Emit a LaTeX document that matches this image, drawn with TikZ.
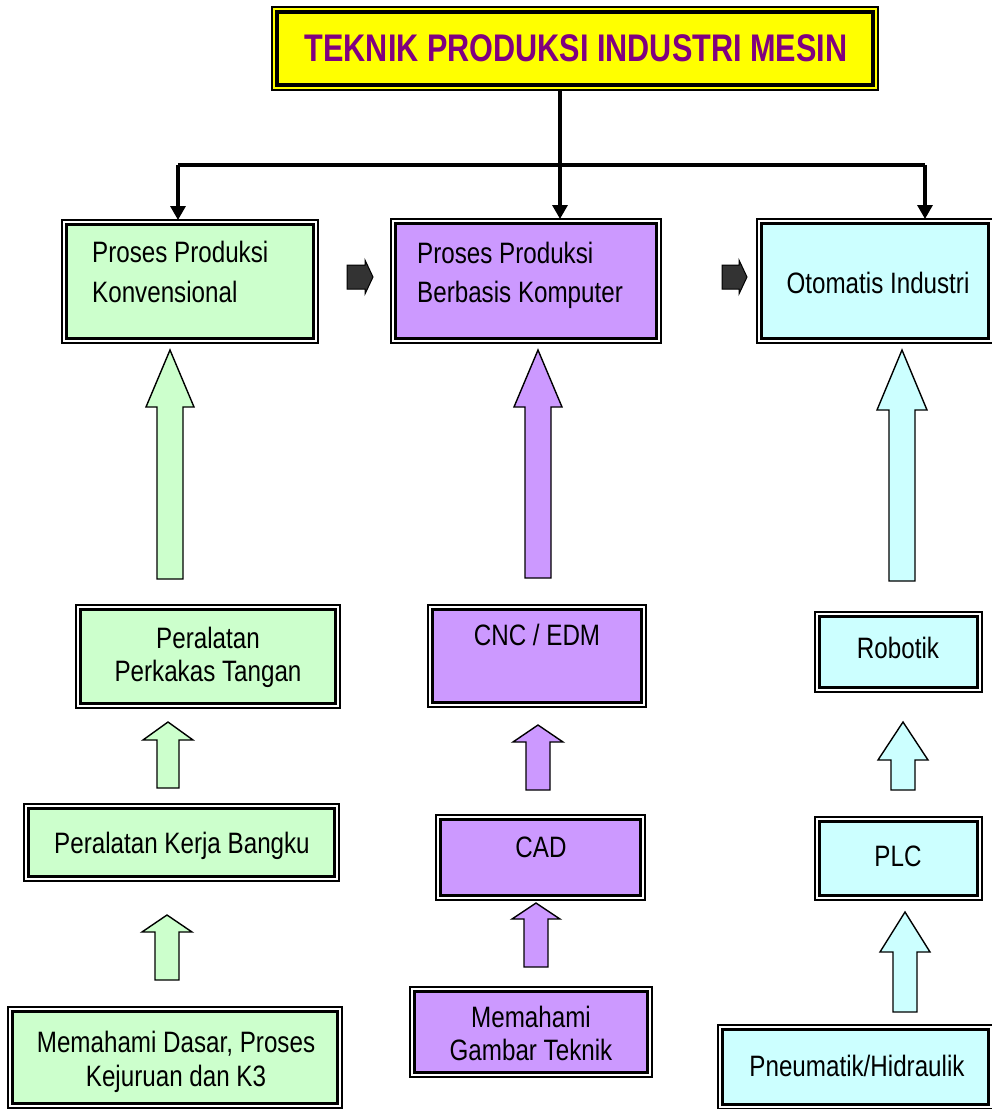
\documentclass[tikz,border=0pt]{standalone}
\usepackage{fontspec}
\setmainfont{Liberation Sans}[FakeStretch=0.82]
\newfontfamily\titlefont{Liberation Sans}[FakeStretch=0.795]
\usetikzlibrary{arrows.meta,calc,fit}
\definecolor{cgreen}{HTML}{CCFFCC}
\definecolor{cpurple}{HTML}{CC99FF}
\definecolor{ccyan}{HTML}{CCFFFF}
\definecolor{cyellow}{HTML}{FFFF00}
\definecolor{ctitle}{HTML}{800080}
\definecolor{cdark}{HTML}{333333}
\tikzset{
  outerbox/.style={draw=black, line width=1.4pt, fill=white, inner sep=0pt, outer sep=0pt},
  innerbox/.style={draw=black, line width=3.8pt},
  lbl/.style={anchor=base, inner sep=0pt, font=\fontsize{29.5}{34}\selectfont},
  conn/.style={line width=3.2pt, draw=black},
  downarr/.style={-{Triangle[width=15pt,length=14pt]}},
  blockarr/.style={draw=black, line width=1.4pt, line join=miter},
  darkarr/.style={draw=black, line width=1pt, fill=cdark, line join=miter},
}
\newcommand\bbox[6]{%
  \node[outerbox, fit={(#2,#3) (#4,#5)}] (#1) {};
  \draw[innerbox, fill=#6] ($(#1.north west)+(4.5,4.5)$) rectangle ($(#1.south east)+(-4.5,-4.5)$);
}
\newcommand\blkup[7]{%
  \draw[blockarr, fill=#7] (#1,#2) -- ({#1+#5},#3) -- ({#1+#6},#3) -- ({#1+#6},#4) -- ({#1-#6},#4) -- ({#1-#6},#3) -- ({#1-#5},#3) -- cycle;
}
\newcommand\blkright[4]{%
  \draw[darkarr] (#1,{#4-12}) -- (#2,{#4-12}) -- (#2,{#4-17}) -- (#3,#4) -- (#2,{#4+17}) -- (#2,{#4+12}) -- (#1,{#4+12}) -- cycle;
}
\begin{document}
\begin{tikzpicture}[x=1pt,y=-1pt]
\clip (0,0) rectangle (992,1109);
\fill[white] (0,0) rectangle (992,1109);

% title
\node[outerbox, fill=cyellow, fit={(272,7) (878,90)}] (title) {};
\draw[innerbox] ($(title.north west)+(5,5)$) rectangle ($(title.south east)+(-5,-5)$);
\node[anchor=base, inner sep=0pt, text=ctitle, font=\titlefont\bfseries\fontsize{38.5}{42}\selectfont] (titletext) at (576,61) {TEKNIK PRODUKSI INDUSTRI MESIN};

% top row boxes
\bbox{b1}{62}{220}{318}{343}{cgreen}
\bbox{b2}{391}{219}{661}{343}{cpurple}
\bbox{b3}{757}{219}{993}{343}{ccyan}
\node[lbl, anchor=base west] (b1a) at (92,262) {Proses Produksi};
\node[lbl, anchor=base west] (b1b) at (92,302) {Konvensional};
\node[lbl, anchor=base west] (b2a) at (417,263) {Proses Produksi};
\node[lbl, anchor=base west] (b2b) at (417,302) {Berbasis Komputer};
\node[lbl] (b3a) at (878,293) {Otomatis Industri};

% connectors from title
\coordinate (jm) at (560,165);
\coordinate (jl) at (178,165);
\coordinate (jr) at (925,165);
\draw[conn] (jm |- title.south) -- (jm);
\draw[conn] (jl) -- (jr);
\draw[conn, downarr] (jm) -- (jm |- b2.north);
\draw[conn, downarr] (jl) -- (jl |- b1.north);
\draw[conn, downarr] (jr) -- (jr |- b3.north);

% dark arrows between top boxes
\blkright{347}{365}{373}{277}
\blkright{722}{739}{747}{277}

% green column
\bbox{g1}{76}{605}{340}{708}{cgreen}
\bbox{g2}{24}{804}{339}{881}{cgreen}
\bbox{g3}{8}{1007}{342}{1108}{cgreen}
\node[lbl] (g1a) at (208,648) {Peralatan};
\node[lbl] (g1b) at (208,681) {Perkakas Tangan};
\node[lbl] (g2a) at (182,853) {Peralatan Kerja Bangku};
\node[lbl] (g3a) at (176,1052) {Memahami Dasar, Proses};
\node[lbl] (g3b) at (176,1086) {Kejuruan dan K3};
\blkup{170}{350}{407}{579}{24}{13}{cgreen}
\blkup{168}{722}{740}{788}{25}{11}{cgreen}
\blkup{167}{915}{932}{980}{25}{12}{cgreen}

% purple column
\bbox{p1}{428}{605}{646}{707}{cpurple}
\bbox{p2}{436}{815}{645}{900}{cpurple}
\bbox{p3}{410}{987}{652}{1077}{cpurple}
\node[lbl] (p1a) at (537,645) {CNC / EDM};
\node[lbl] (p2a) at (541,857) {CAD};
\node[lbl] (p3a) at (531,1027) {Memahami};
\node[lbl] (p3b) at (531,1060) {Gambar Teknik};
\blkup{538}{350}{407}{578}{24}{13}{cpurple}
\blkup{538}{725}{742}{790}{25}{12}{cpurple}
\blkup{536}{903}{919}{967}{24}{12}{cpurple}

% cyan column
\bbox{c1}{815}{612}{982}{692}{ccyan}
\bbox{c2}{815}{817}{982}{900}{ccyan}
\bbox{c3}{718}{1025}{993}{1109}{ccyan}
\node[lbl] (c1a) at (898,658) {Robotik};
\node[lbl] (c2a) at (898,866) {PLC};
\node[lbl] (c3a) at (857,1076) {Pneumatik/Hidraulik};
\blkup{902}{350}{410}{581}{25}{13}{ccyan}
\blkup{903}{722}{760}{790}{25}{12}{ccyan}
\blkup{905}{912}{952}{1012}{25}{12}{ccyan}
\end{tikzpicture}
\end{document}
